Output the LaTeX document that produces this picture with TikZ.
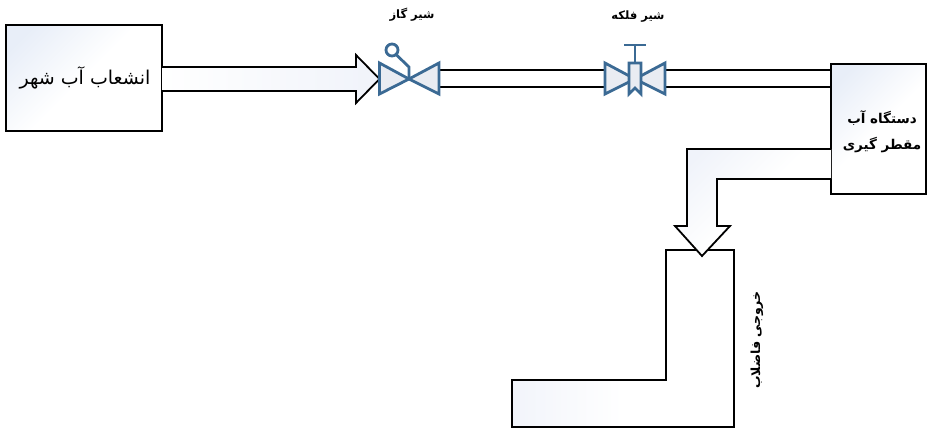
\documentclass[tikz,border=0pt]{standalone}
\usepackage{fontspec}
\TeXXeTstate=1
\newfontfamily\arabicfont[Script=Arabic]{DejaVu Sans}
\definecolor{valveblue}{HTML}{3B6A94}
\definecolor{valvefill}{HTML}{E9ECF2}
\definecolor{glow}{HTML}{E8EEF8}
\definecolor{paleglow}{HTML}{F0F3FA}
\pgfdeclareverticalshading{cornerfade}{100bp}{color(0bp)=(white); color(50bp)=(white); color(78bp)=(glow); color(100bp)=(glow)}
\pgfdeclareverticalshading{palefade}{100bp}{color(0bp)=(white); color(50bp)=(white); color(78bp)=(paleglow); color(100bp)=(paleglow)}
\tikzset{
  x=1pt,y=-1pt,
  glowshade/.style={shading=cornerfade,shading angle=45},
  paleshade/.style={shading=palefade,shading angle=45},
  sideshade/.style={shading=palefade,shading angle=90},
  headshade/.style={left color=white,right color=paleglow},
  plate/.style={draw=black,line width=1.8pt,glowshade,rectangle,inner sep=0pt,outer sep=0pt,anchor=north west,align=center},
  pipeedge/.style={draw=black,line width=1.8pt},
  valvebody/.style={draw=valveblue,fill=valvefill,line width=2.8pt,line join=miter},
  valveline/.style={draw=valveblue,line width=2.8pt},
  lbl/.style={inner sep=0pt,font=\arabicfont\bfseries\fontsize{11.5}{14}\selectfont,align=center}
}
\begin{document}
\begin{tikzpicture}
\useasboundingbox (0,0) rectangle (927,428);
% L-shaped drain
\draw[line width=1.8pt,line join=miter,sideshade] (666,250) -- (734,250) -- (734,427) -- (512,427) -- (512,380) -- (666,380) -- cycle;
% boxes
\node[plate,minimum width=156pt,minimum height=106pt] (city) at (6,25) {};
\node[inner sep=0pt,font=\arabicfont\fontsize{19}{22}\selectfont] (citylbl) at (85,78) {\beginR انشعاب آب شهر\endR};
\node[plate,minimum width=95pt,minimum height=130pt] (device) at (831,64) {};
\node[inner sep=0pt,align=center,font=\arabicfont\bfseries\fontsize{13.5}{26}\selectfont] (devicelbl) at (882,132) {\beginR دستگاه آب\endR\\\beginR مقطر گیری\endR};
% valve reference points
\coordinate (gas) at (409,79);
\coordinate (wheel) at (635,79);
% block arrow from the city box into the gas valve
\coordinate (a1t) at (city.north east |- 0,67);
\coordinate (a1b) at (city.north east |- 0,91);
\path[headshade] (a1t) -- (356,67) -- (356,55) -- (379.5,79) -- (356,103) -- (356,91) -- (a1b) -- cycle;
\draw[line width=1.8pt,line join=miter] (a1t) -- (356,67) -- (356,55) -- (379.5,79) -- (356,103) -- (356,91) -- (a1b);
% pipes
\draw[pipeedge] (439,70) -- (606,70) (439,87) -- (606,87);
\coordinate (p2t) at (device.north west |- 0,70);
\coordinate (p2b) at (device.north west |- 0,87);
\draw[pipeedge] (665,70) -- (p2t) (665,87) -- (p2b);
% elbow arrow
\coordinate (e1) at (device.north west |- 0,149);
\coordinate (e2) at (device.north west |- 0,179);
\path[paleshade] (e1) -- (687,149) -- (687,226) -- (675,226) -- (702,256) -- (730,226) -- (717,226) -- (717,179) -- (e2) -- cycle;
\draw[line width=1.8pt,line join=miter] (e1) -- (687,149) -- (687,226) -- (675,226) -- (702,256) -- (730,226) -- (717,226) -- (717,179) -- (e2);
% gas valve
\draw[valvebody] (gas) -- (379.5,63) -- (379.5,94) -- cycle;
\draw[valvebody] (gas) -- (439,63) -- (439,94) -- cycle;
\draw[valveline] (gas) -- (409,67) -- (396,54.5);
\node[circle,draw=valveblue,fill=white,line width=2.8pt,minimum size=12pt,inner sep=0pt] (gasknob) at (392,50) {};
% wheel valve
\draw[valvebody] (wheel) -- (605,63) -- (605,94) -- cycle;
\draw[valvebody] (wheel) -- (665,63) -- (665,94) -- cycle;
\draw[valveline] (635,63) -- (635,45) (624,45) -- (646,45);
\draw[valvebody] (629,63) -- (641,63) -- (641,94) -- (635,88) -- (629,94) -- cycle;
% labels
\node[lbl] (gaslbl) at (412,15) {\beginR شیر گاز\endR};
\node[lbl] (wheellbl) at (638,17) {\beginR شیر فلکه\endR};
\node[lbl,rotate=90,font=\arabicfont\bfseries\fontsize{12.5}{15}\selectfont] (drainlbl) at (757,340) {\beginR خروجی فاضلاب\endR};
\end{tikzpicture}
\end{document}
